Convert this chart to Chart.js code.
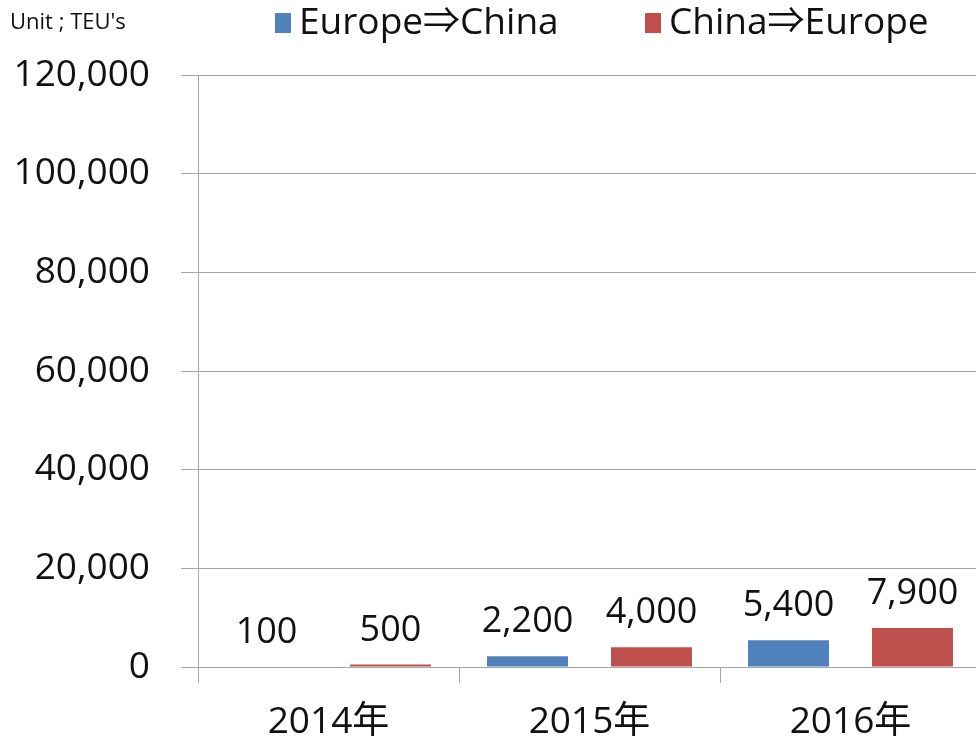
<!DOCTYPE html>
<html lang="en">
<head>
<meta charset="UTF-8">
<title>Europe - China TEU's</title>
<script src="https://cdn.jsdelivr.net/npm/chart.js@4"></script>
<style>
  html, body { margin: 0; padding: 0; background: #fff; overflow: hidden; }
  /* plot runs a few pixels past the right edge, as in the original crop */
  #wrap { width: 981px; height: 745px; position: relative; }
</style>
</head>
<body>
<div id="wrap"><canvas id="chart"></canvas></div>
<script>
// data
const years = ['2014年', '2015年', '2016年'];
const europeToChina = [100, 2200, 5400];
const chinaToEurope = [500, 4000, 7900];
const seriesNames = ['Europe⇒China', 'China⇒Europe'];
const yTicks = [0, 20000, 40000, 60000, 80000, 100000, 120000];

const FONT = "'Open Sans', 'Noto Sans CJK JP', sans-serif";
const BLUE = '#4f81bd';
const RED = '#c0504d';
const GRID = '#a6a6a6';

// value labels above each bar
const barLabels = {
  id: 'barLabels',
  afterDatasetsDraw (chart) {
    const ctx = chart.ctx;
    ctx.save();
    ctx.font = '36px ' + FONT;
    ctx.fillStyle = '#111';
    ctx.textAlign = 'center';
    ctx.textBaseline = 'alphabetic';
    chart.data.datasets.forEach((ds, i) => {
      chart.getDatasetMeta(i).data.forEach((bar, j) => {
        ctx.fillText(ds.data[j].toLocaleString('en-US'), bar.x, bar.y - 24);
      });
    });
    ctx.restore();
  }
};

// legend row and unit note at the top
const topLegend = {
  id: 'topLegend',
  afterDraw (chart) {
    const ctx = chart.ctx;
    ctx.save();
    ctx.fillStyle = '#111';
    ctx.textBaseline = 'middle';
    ctx.font = '22px ' + FONT;
    ctx.fillText("Unit ; TEU's", 10, 23);
    ctx.font = '37px ' + FONT;
    const items = [
      { x: 275, color: BLUE, text: seriesNames[0] },
      { x: 645, color: RED, text: seriesNames[1] }
    ];
    items.forEach(it => {
      ctx.fillStyle = it.color;
      ctx.fillRect(it.x, 13, 16, 20);
      ctx.fillStyle = '#111';
      ctx.fillText(it.text, it.x + 24, 23);
    });
    ctx.restore();
  }
};

new Chart(document.getElementById('chart'), {
  type: 'bar',
  data: {
    labels: years,
    datasets: [
      { label: seriesNames[0], data: europeToChina, backgroundColor: BLUE },
      { label: seriesNames[1], data: chinaToEurope, backgroundColor: RED }
    ]
  },
  options: {
    responsive: true,
    maintainAspectRatio: false,
    animation: false,
    layout: { padding: { top: 75, right: 0, left: 0, bottom: 0 } },
    datasets: {
      bar: { categoryPercentage: 0.95, barPercentage: 0.653 }
    },
    plugins: {
      legend: { display: false },
      tooltip: { enabled: false }
    },
    scales: {
      x: {
        afterFit (scale) { scale.height = 78; },
        grid: {
          drawOnChartArea: false,
          drawTicks: true,
          tickLength: 16,
          color: GRID,
          offset: true
        },
        border: { color: GRID },
        ticks: {
          color: '#111',
          font: { family: FONT, size: 37 },
          padding: 17
        }
      },
      y: {
        min: 0,
        max: 120000,
        afterFit (scale) { scale.width = 198; },
        afterBuildTicks (scale) { scale.ticks = yTicks.map(v => ({ value: v })); },
        grid: { color: GRID, tickLength: 17 },
        border: { color: GRID },
        ticks: {
          color: '#111',
          font: { family: FONT, size: 37 },
          padding: 31,
          callback: v => v.toLocaleString('en-US')
        }
      }
    }
  },
  plugins: [barLabels, topLegend]
});
</script>
</body>
</html>
